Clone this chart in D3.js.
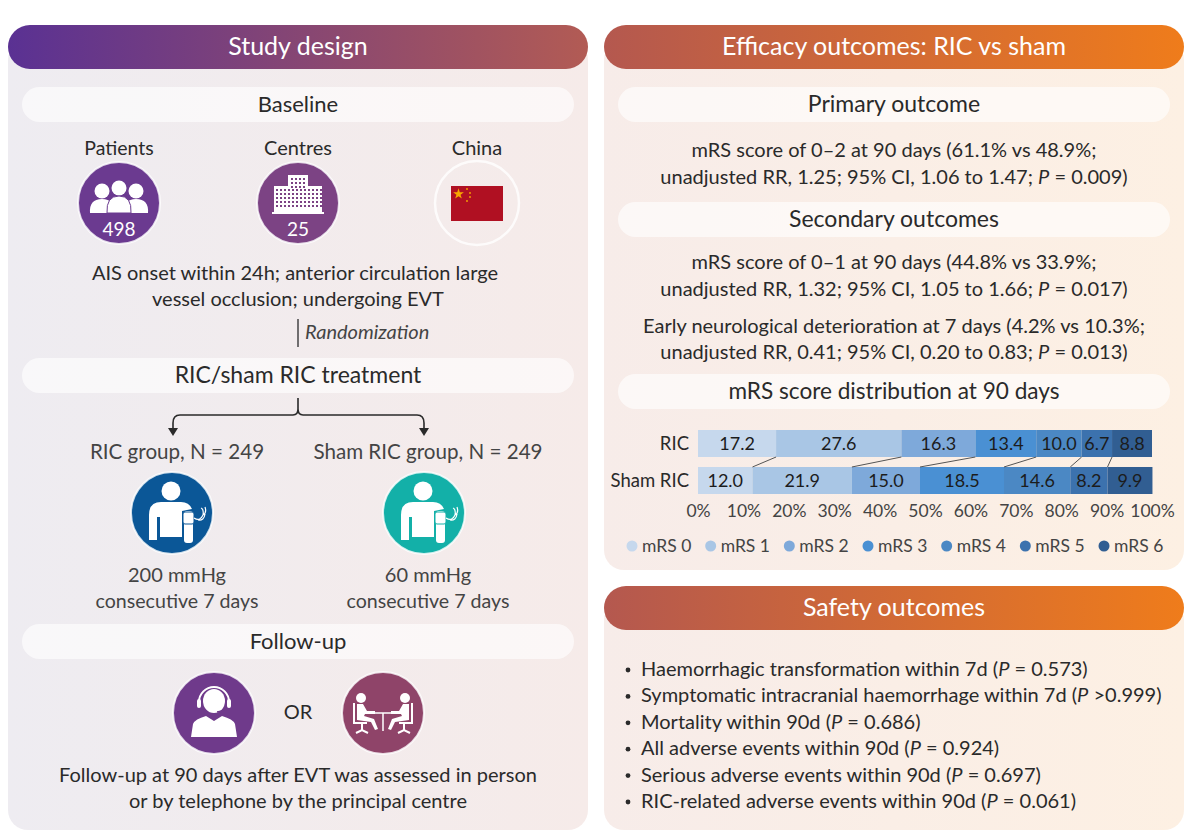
<!DOCTYPE html>
<html lang="en">
<head>
<meta charset="UTF-8">
<title>RIC vs sham graphical abstract</title>
<script src="https://d3js.org/d3.v7.min.js"></script>
<style>
  html, body { margin: 0; padding: 0; background: #fff; }
  svg { display: block; }
  text { font-family: Lato, "Open Sans", sans-serif; fill: #2a2a2a; }
</style>
</head>
<body>
<svg width="1200" height="839"></svg>
<script>
// chart data
var scoreLabels = ["mRS 0", "mRS 1", "mRS 2", "mRS 3", "mRS 4", "mRS 5", "mRS 6"];
var groups = ["RIC", "Sham RIC"];
var ricValues = [17.2, 27.6, 16.3, 13.4, 10.0, 6.7, 8.8];
var shamValues = [12.0, 21.9, 15.0, 18.5, 14.6, 8.2, 9.9];
var tickValues = [0, 10, 20, 30, 40, 50, 60, 70, 80, 90, 100];
var scoreColors = ["#c6d8ed", "#a9c6e5", "#7ea9da", "#4a90d3", "#4b88c4", "#3c72ae", "#315e92"];

// text, *...* is italic
var primaryLines = ["mRS score of 0–2 at 90 days (61.1% vs 48.9%;", "unadjusted RR, 1.25; 95% CI, 1.06 to 1.47; *P* = 0.009)"];
var secondaryLines = ["mRS score of 0–1 at 90 days (44.8% vs 33.9%;", "unadjusted RR, 1.32; 95% CI, 1.05 to 1.66; *P* = 0.017)"];
var deteriorationLines = ["Early neurological deterioration at 7 days (4.2% vs 10.3%;", "unadjusted RR, 0.41; 95% CI, 0.20 to 0.83; *P* = 0.013)"];
var safetyLines = [
  "Haemorrhagic transformation within 7d (*P* = 0.573)",
  "Symptomatic intracranial haemorrhage within 7d (*P* >0.999)",
  "Mortality within 90d (*P* = 0.686)",
  "All adverse events within 90d (*P* = 0.924)",
  "Serious adverse events within 90d (*P* = 0.697)",
  "RIC-related adverse events within 90d (*P* = 0.061)"
];

var svg = d3.select("svg");
var defs = svg.append("defs");

function gradient(id, stops) {
  var g = defs.append("linearGradient").attr("id", id);
  stops.forEach(function(c, i) {
    g.append("stop").attr("offset", i / (stops.length - 1)).attr("stop-color", c);
  });
}
gradient("headLeft", ["#5a3193", "#b25b54"]);
gradient("headRight", ["#b4584f", "#ef7c1b"]);
gradient("panelLeft", ["#eeecf1", "#f6ebe9"]);
gradient("panelRight", ["#f7ece9", "#fdf0e3"]);

function label(x, y, str, size, anchor, color) {
  var t = svg.append("text")
    .attr("x", x).attr("y", y)
    .attr("font-size", size)
    .attr("text-anchor", anchor || "middle");
  if (color) t.style("fill", color);
  str.split("*").forEach(function(part, i) {
    t.append("tspan").attr("font-style", i % 2 ? "italic" : "normal").text(part);
  });
  return t;
}

function panel(x, y, w, h, fill) {
  svg.append("rect").attr("x", x).attr("y", y).attr("width", w).attr("height", h)
    .attr("rx", 20).attr("fill", "url(#" + fill + ")");
}

function header(x, y, w, str, fill) {
  svg.append("rect").attr("x", x).attr("y", y).attr("width", w).attr("height", 44)
    .attr("rx", 22).attr("fill", "url(#" + fill + ")");
  label(x + w / 2, y + 30, str, 25, "middle", "#fff");
}

function pill(x, y, str, size) {
  svg.append("rect").attr("x", x).attr("y", y).attr("width", 552).attr("height", 35)
    .attr("rx", 17.5).attr("fill", "#fff").attr("fill-opacity", 0.62);
  label(x + 276, y + 25, str, size);
}

panel(8, 40, 580, 790, "panelLeft");
panel(604, 40, 580, 530, "panelRight");
panel(604, 600, 580, 230, "panelRight");
header(8, 25, 580, "Study design", "headLeft");
header(604, 25, 580, "Efficacy outcomes: RIC vs sham", "headRight");
header(604, 586, 580, "Safety outcomes", "headRight");

pill(22, 87, "Baseline", 22);
pill(22, 358, "RIC/sham RIC treatment", 23);
pill(22, 624, "Follow-up", 22);
pill(618, 87, "Primary outcome", 23);
pill(618, 202, "Secondary outcomes", 23);
pill(618, 374, "mRS score distribution at 90 days", 22.6);

// icons
function badge(cx, cy, fill) {
  var g = svg.append("g").attr("transform", "translate(" + cx + "," + cy + ")");
  g.append("circle").attr("r", 41).attr("fill", fill).attr("stroke", "#fff").attr("stroke-opacity", 0.8).attr("stroke-width", 2);
  return g;
}

var patients = badge(119, 203, "#6b3a90");
[[-17, -12], [17, -12], [0, -15]].forEach(function(p) {
  patients.append("circle").attr("cx", p[0]).attr("cy", p[1]).attr("r", 7.5).attr("fill", "#fff");
  patients.append("path")
    .attr("d", "M" + (p[0] - 12) + ",10 Q" + (p[0] - 13) + "," + (p[1] + 8) + " " + p[0] + "," + (p[1] + 8) + " Q" + (p[0] + 13) + "," + (p[1] + 8) + " " + (p[0] + 12) + ",10 Z")
    .attr("fill", "#fff").attr("stroke", p[0] == 0 ? "#6b3a90" : "none");
});
patients.append("text").attr("y", 33).attr("text-anchor", "middle").attr("font-size", 19).style("fill", "#fff").text("498");

var centres = badge(298, 203, "#7c4384");
centres.append("rect").attr("x", -24).attr("y", -17).attr("width", 48).attr("height", 27).attr("fill", "#fff");
centres.append("rect").attr("x", -10).attr("y", -28).attr("width", 20).attr("height", 38).attr("fill", "#fff");
centres.append("rect").attr("x", -26).attr("y", 9).attr("width", 52).attr("height", 2).attr("fill", "#fff");
d3.range(-22, 23, 4).forEach(function(wx) {
  d3.range(-14, 5, 4).forEach(function(wy) {
    centres.append("rect").attr("x", wx).attr("y", wy).attr("width", 2).attr("height", 2).attr("fill", "#7c4384");
  });
});
d3.range(-7, 8, 4).forEach(function(wx) {
  [-25, -21, -17].forEach(function(wy) {
    centres.append("rect").attr("x", wx).attr("y", wy).attr("width", 2).attr("height", 2).attr("fill", "#7c4384");
  });
});
centres.append("text").attr("y", 33).attr("text-anchor", "middle").attr("font-size", 19).style("fill", "#fff").text("25");

var china = badge(477, 203, "none");
china.select("circle").attr("r", 42).attr("stroke-width", 2.5);
china.append("rect").attr("x", -26).attr("y", -17).attr("width", 52).attr("height", 35).attr("fill", "#b01022");
china.append("path").attr("d", d3.symbol().type(d3.symbolStar).size(36)).attr("transform", "translate(-18.5,-9)").attr("fill", "#f8a800");
[[-10, -14], [-7, -10], [-7, -6], [-10, -2]].forEach(function(p) {
  china.append("circle").attr("cx", p[0]).attr("cy", p[1]).attr("r", 0.9).attr("fill", "#f8a800");
});

function cuffPerson(cx, cy, fill) {
  var g = badge(cx, cy, fill);
  g.append("circle").attr("cx", -1).attr("cy", -22).attr("r", 9.5).attr("fill", "#fff");
  g.append("path").attr("fill", "#fff")
    .attr("d", "M-23,27 L-23,2 Q-23,-11 -11,-11 L9,-11 Q17,-11 20,-4 L10,-2 L10,24 L-12,24 L-12,4 L-15,4 L-15,27 Z");
  g.append("rect").attr("x", 12).attr("y", -2).attr("width", 9).attr("height", 32).attr("rx", 3).attr("fill", "#fff");
  g.append("rect").attr("x", 11).attr("y", -1).attr("width", 11).attr("height", 12).attr("rx", 2)
    .attr("fill", "#fff").attr("stroke", fill).attr("stroke-width", 1);
  g.append("path").attr("fill", "none").attr("stroke", "#fff").attr("stroke-width", 1.2)
    .attr("d", "M22,5 Q28,9 31,2 Q32,-4 29,-5 M31,2 Q35,0 33,-6 M26,7 Q32,8 33,1");
  return g;
}
cuffPerson(172, 513, "#0b5797");
cuffPerson(424, 513, "#13b0a8");

var headset = badge(214, 713, "#6f3a8b");
headset.append("ellipse").attr("cy", -12).attr("rx", 11).attr("ry", 12).attr("fill", "#fff");
headset.append("path").attr("fill", "#fff").attr("d", "M-23,24 L-21,11 Q-19,6 -8,3 L0,8 L8,3 Q19,6 21,11 L23,24 Z");
headset.append("path").attr("fill", "none").attr("stroke", "#fff").attr("stroke-width", 2)
  .attr("d", "M-15,-11 A15,15 0 0 1 15,-11");
headset.append("rect").attr("x", -17).attr("y", -14).attr("width", 4).attr("height", 9).attr("rx", 2).attr("fill", "#fff");
headset.append("rect").attr("x", 13).attr("y", -14).attr("width", 4).attr("height", 9).attr("rx", 2).attr("fill", "#fff");
headset.append("path").attr("fill", "none").attr("stroke", "#6f3a8b").attr("stroke-width", 1.5)
  .attr("d", "M12,-7 Q12,-2 3,-1");

var meeting = badge(383, 713, "#8f4469");
[1, -1].forEach(function(side) {
  var p = meeting.append("g").attr("transform", "scale(" + side + ",1)");
  p.append("circle").attr("cx", -22).attr("cy", -15).attr("r", 5).attr("fill", "#fff");
  p.append("path").attr("fill", "#fff")
    .attr("d", "M-26,-9 L-20,-9 L-16,-2 L-8,-2 L-8,1 L-18,1 L-19,3 L-9,6 L-5,16 L-8,17 L-12,9 L-26,7 Z");
  p.append("path").attr("fill", "none").attr("stroke", "#fff").attr("stroke-width", 2)
    .attr("d", "M-29,-10 L-29,10 L-16,10 M-21,10 L-21,18 M-27,20 L-21,17 L-15,20");
});
meeting.append("path").attr("fill", "none").attr("stroke", "#fff").attr("stroke-width", 1.5)
  .attr("d", "M-8,0 L10,0 M0,0 L0,18");

// left column text
label(119, 155, "Patients", 19.5);
label(298, 155, "Centres", 20);
label(477, 155, "China", 20);
label(295, 280, "AIS onset within 24h; anterior circulation large", 20);
label(298, 306, "vessel occlusion; undergoing EVT", 20);
svg.append("line").attr("x1", 298).attr("x2", 298).attr("y1", 319).attr("y2", 347).attr("stroke", "#444").attr("stroke-width", 1.5);
label(305, 339, "*Randomization*", 20, "start", "#444");

svg.append("path").attr("fill", "none").attr("stroke", "#2a2a2a").attr("stroke-width", 1.6)
  .attr("d", "M298,398 L298,409 Q298,415 293,415 L180,415 Q173,415 173,423 L173,430 M298,409 Q298,415 303,415 L417,415 Q424,415 424,423 L424,430");
svg.append("path").attr("fill", "#2a2a2a").attr("d", "M168,428 L178,428 L173,436 Z");
svg.append("path").attr("fill", "#2a2a2a").attr("d", "M419,428 L429,428 L424,436 Z");

label(177, 459, "RIC group, N = 249", 20.6, "middle", "#444");
label(428, 459, "Sham RIC group, N = 249", 20.6, "middle", "#444");
label(177, 582, "200 mmHg", 20, "middle", "#444");
label(177, 608, "consecutive 7 days", 19.6, "middle", "#444");
label(428, 582, "60 mmHg", 20, "middle", "#444");
label(428, 608, "consecutive 7 days", 19.6, "middle", "#444");
label(298, 719, "OR", 20);
label(298, 782, "Follow-up at 90 days after EVT was assessed in person", 20);
label(298, 808, "or by telephone by the principal centre", 20);

// right column text
label(894, 157, primaryLines[0], 20);
label(894, 184, primaryLines[1], 20);
label(894, 269, secondaryLines[0], 20);
label(894, 296, secondaryLines[1], 20);
label(894, 333, deteriorationLines[0], 20);
label(894, 359, deteriorationLines[1], 20);

// stacked bars
var x = d3.scaleLinear().domain([0, 100]).range([698, 1152]);
var y = d3.scaleBand().domain(groups).range([430, 494]).paddingInner(0.27);
var series = [ricValues, shamValues];

series.forEach(function(values, row) {
  var ends = Array.from(d3.cumsum(values));
  var rowG = svg.append("g");
  rowG.selectAll("rect").data(values).enter().append("rect")
    .attr("x", function(d, i) { return x(ends[i] - d); })
    .attr("y", y(groups[row]))
    .attr("width", function(d) { return x(d) - x(0); })
    .attr("height", y.bandwidth())
    .attr("fill", function(d, i) { return scoreColors[i]; });
  rowG.selectAll("text").data(values).enter().append("text")
    .attr("x", function(d, i) { return x(ends[i] - d / 2); })
    .attr("y", y(groups[row]) + y.bandwidth() / 2 + 6.5)
    .attr("text-anchor", "middle")
    .attr("font-size", 18)
    .style("fill", "#1c1c1c")
    .text(function(d) { return d.toFixed(1); });
  label(689, y(groups[row]) + y.bandwidth() / 2 + 6.5, groups[row], 18.5, "end");
});

var ricEnds = Array.from(d3.cumsum(ricValues)).slice(0, -1);
var shamEnds = Array.from(d3.cumsum(shamValues)).slice(0, -1);
svg.append("g").selectAll("line").data(ricEnds).enter().append("line")
  .attr("x1", function(d) { return x(d); })
  .attr("x2", function(d, i) { return x(shamEnds[i]); })
  .attr("y1", y(groups[0]) + y.bandwidth())
  .attr("y2", y(groups[1]))
  .attr("stroke", "#555").attr("stroke-width", 1);

var axis = svg.append("g").attr("transform", "translate(0,494)")
  .call(d3.axisBottom(x).tickValues(tickValues).tickSize(0).tickPadding(11).tickFormat(function(d) { return d + "%"; }));
axis.select(".domain").remove();
axis.selectAll("text").attr("font-size", 17.5).style("font-family", "Lato").style("fill", "#444");

// legend
var legendX = d3.scalePoint().domain(scoreLabels).range([632, 1104]);
scoreLabels.forEach(function(name, i) {
  svg.append("circle").attr("cx", legendX(name)).attr("cy", 546).attr("r", 5.5).attr("fill", scoreColors[i]);
  label(legendX(name) + 10, 552, name, 17.5, "start", "#444");
});

// safety list
var safetyY = d3.scalePoint().domain(d3.range(safetyLines.length)).range([676, 808]);
safetyLines.forEach(function(line, i) {
  svg.append("circle").attr("cx", 628).attr("cy", safetyY(i) - 6).attr("r", 2.4).attr("fill", "#2a2a2a");
  label(641, safetyY(i), line, 20, "start");
});
</script>
</body>
</html>
